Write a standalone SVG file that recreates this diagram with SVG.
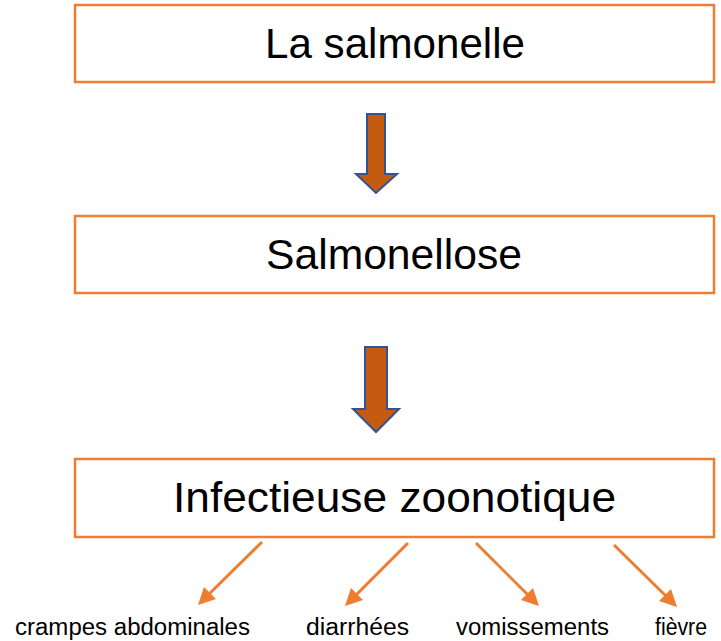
<svg xmlns="http://www.w3.org/2000/svg" width="721" height="641" viewBox="0 0 721 641">
<style>
.box{fill:#fff;stroke:#ED7D31;stroke-width:2.5}
.t{font-family:"Liberation Sans",Arial,sans-serif;font-size:42px;fill:#000;text-anchor:middle}
.s{font-family:"Liberation Sans",Arial,sans-serif;font-size:23px;fill:#000}
.blk{fill:#C55A11;stroke:#2F5597;stroke-width:2}
.ln{stroke:#ED7D31;stroke-width:3;fill:none}
.hd{fill:#ED7D31}
</style>
<rect width="721" height="641" fill="#fff"/>
<g id="n1"><rect class="box" x="75" y="5" width="639" height="77"/><text class="t" x="395" y="58" textLength="260" lengthAdjust="spacingAndGlyphs">La salmonelle</text></g>
<g id="n2"><rect class="box" x="75" y="216" width="639" height="77"/><text class="t" x="394" y="269" textLength="256" lengthAdjust="spacingAndGlyphs">Salmonellose</text></g>
<g id="n3"><rect class="box" x="75" y="459" width="639" height="78"/><text class="t" x="394.5" y="512" textLength="443" lengthAdjust="spacingAndGlyphs">Infectieuse zoonotique</text></g>
<g id="l1"><text class="s" x="15" y="635" textLength="235" lengthAdjust="spacingAndGlyphs">crampes abdominales</text></g>
<g id="l2"><text class="s" x="306" y="635" textLength="103" lengthAdjust="spacingAndGlyphs">diarrhées</text></g>
<g id="l3"><text class="s" x="456" y="635" textLength="153" lengthAdjust="spacingAndGlyphs">vomissements</text></g>
<g id="l4"><text class="s" x="655" y="635" textLength="52" lengthAdjust="spacingAndGlyphs">fièvre</text></g>
<g id="connectors">
<path class="blk" d="M367,114 L385,114 L385,174 L397,174 L376,193 L356,174 L367,174 Z"/>
<path class="blk" d="M365,347 L387,347 L387,409 L399,409 L376,432 L353,409 L365,409 Z"/>
<line class="ln" x1="262" y1="542" x2="206" y2="597"/>
<path class="hd" d="M198,605 L204,587 L216,599 Z"/>
<line class="ln" x1="408" y1="543" x2="353" y2="598"/>
<path class="hd" d="M345,606 L351,588 L363,600 Z"/>
<line class="ln" x1="476" y1="543" x2="531" y2="598"/>
<path class="hd" d="M539,606 L521,600 L533,588 Z"/>
<line class="ln" x1="614" y1="545" x2="669" y2="599"/>
<path class="hd" d="M677,607 L659,601 L671,589 Z"/>
</g>
</svg>
